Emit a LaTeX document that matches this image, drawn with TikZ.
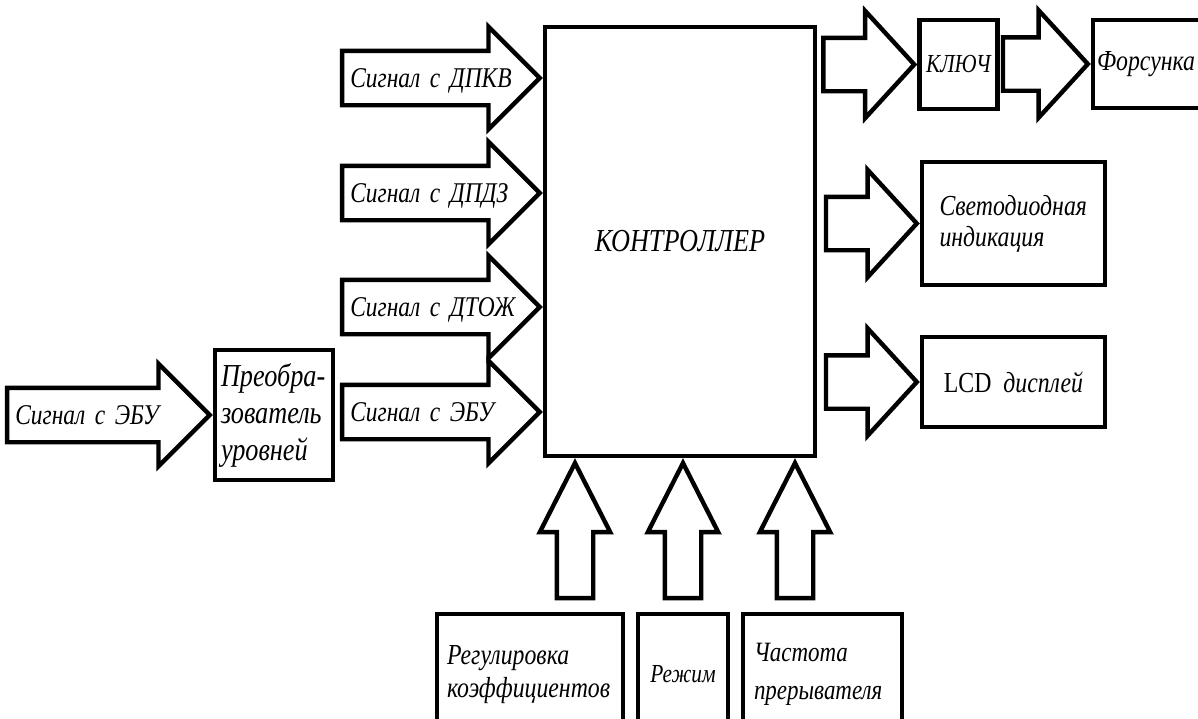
\documentclass[tikz,border=0pt]{standalone}
\usepackage{fontspec}
\setmainfont{Liberation Serif}[FakeStretch=0.82]
\usetikzlibrary{shapes.arrows}

\begin{document}
\begin{tikzpicture}[
    x=0.5pt, y=-0.5pt,
    every node/.style={font=\itshape\fontsize{14.5}{17}\selectfont},
    block/.style={rectangle, draw=black, line width=2.2pt},
    textblock/.style={block, align=left},
    sigarrow/.style={single arrow, draw=black, line width=2.2pt,
        single arrow head extend=12pt, single arrow tip angle=90,
        inner xsep=3pt, inner ysep=0pt, text height=17.1pt, text depth=7.9pt,
        text width=77pt, anchor=tip, font=\itshape\fontsize{14.3}{17}\selectfont},
    outarrow/.style={single arrow, draw=black, line width=2.2pt,
        single arrow head extend=13.5pt, single arrow tip angle=95,
        inner sep=0pt, text height=24.5pt, text depth=0pt,
        text width=31pt, anchor=tip},
    inarrow/.style={single arrow, draw=black, line width=2.2pt,
        shape border rotate=90,
        single arrow head extend=8.5pt, single arrow tip angle=54,
        inner sep=0pt, text height=47.5pt, text depth=0pt,
        text width=16pt, anchor=tip}
]
    \useasboundingbox (0,0) rectangle (1198,718);

    % Controller
    \node[block, minimum width=135pt, minimum height=214.5pt,
        font=\itshape\fontsize{16}{19}\selectfont] (ctrl) at (680,241.5) {КОНТРОЛЛЕР};

    % Level converter
    \node[textblock, minimum width=59pt, minimum height=65pt, inner xsep=3pt,
        text width=53pt, font=\itshape\fontsize{16}{18.5}\selectfont] (conv) at (274,415)
        {Преобра-\\зователь\\уровней};

    % Input signals
    \foreach \y/\name/\src in {78/dpkv/ДПКВ, 193/dpdz/ДПДЗ, 307/dtozh/ДТОЖ, 412/ebu/ЭБУ} {
        \node[sigarrow] (\name) at (ctrl.west |- 0,\y) {Сигнал~с~\src};
    }
    \node[sigarrow, text width=79.5pt] (ebuin) at (conv.west) {Сигнал~с~ЭБУ};

    % Outputs
    \node[block, minimum width=36.5pt, minimum height=44.5pt,
        font=\itshape\fontsize{13}{16}\selectfont] (key) at (958.5,64.5) {КЛЮЧ};
    \node[textblock, minimum width=61pt, minimum height=44pt, inner xsep=2pt,
        text width=57pt] (inj) at (1154,64) {Форсунка};
    \node[textblock, minimum width=91.5pt, minimum height=61.5pt, inner xsep=8.75pt,
        text width=74pt, font=\itshape\fontsize{14.5}{15.5}\selectfont] (led) at (1013.5,223.5)
        {Светодиодная\\индикация};
    \node[block, minimum width=91.5pt, minimum height=45pt] (lcd) at (1013.5,382)
        {\upshape LCD\ \ \itshape дисплей};

    \foreach \name/\dest in {keyarr/key, ledarr/led, lcdarr/lcd} {
        \node[outarrow] (\name) at (\dest.west) {};
    }
    \node[outarrow, text width=28pt] (injarr) at (inj.west) {};

    % Settings
    \node[textblock, minimum width=93pt, minimum height=60.5pt, inner xsep=5pt,
        text width=83pt, font=\itshape\fontsize{14.5}{16.5}\selectfont] (reg) at (530,674.5)
        {Регулировка\\коэффициентов};
    \node[block, minimum width=45pt, minimum height=60.5pt,
        font=\itshape\fontsize{13}{16}\selectfont] (mode) at (683,674.5) {Режим};
    \node[textblock, minimum width=79.5pt, minimum height=60.5pt, inner xsep=5.5pt,
        text width=68.5pt, font=\itshape\fontsize{14}{19}\selectfont] (freq) at (822.5,674.5)
        {Частота\\прерывателя};

    \foreach \x/\name in {575/regarr, 683/modearr, 795/freqarr} {
        \node[inarrow] (\name) at (ctrl.south -| \x,0) {};
    }

\end{tikzpicture}
\end{document}
